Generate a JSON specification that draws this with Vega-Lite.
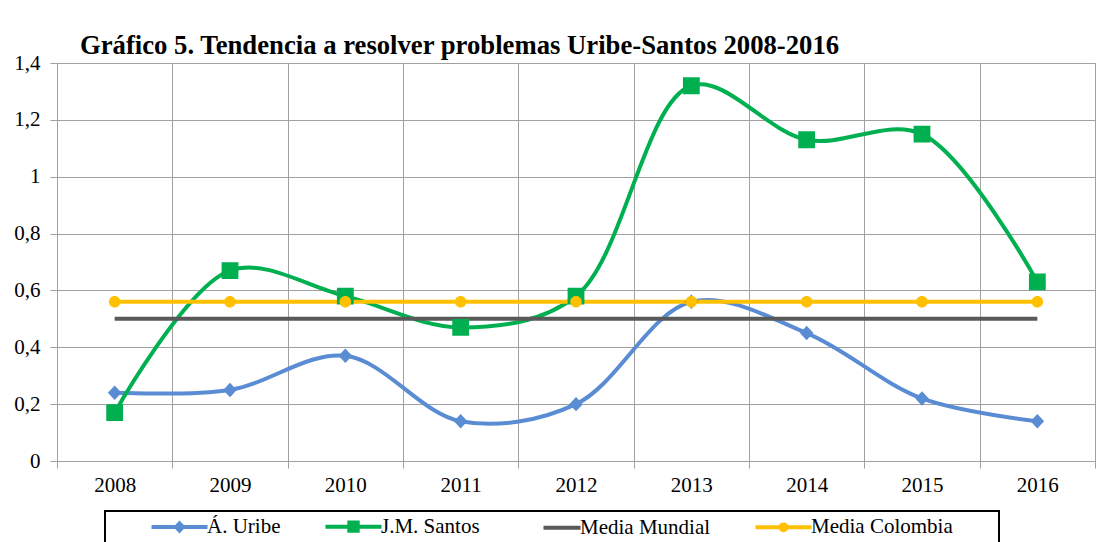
{
  "$schema": "https://vega.github.io/schema/vega-lite/v6.json",
  "width": 1038,
  "height": 398,
  "autosize": "none",
  "padding": {"left": 57, "top": 63, "right": 2, "bottom": 81},
  "background": "white",
  "title": {
    "text": "Gráfico 5. Tendencia a resolver problemas Uribe-Santos 2008-2016",
    "anchor": "start",
    "frame": "group",
    "dx": 23,
    "dy": 37,
    "offset": 8,
    "baseline": "alphabetic",
    "font": "Liberation Serif",
    "fontSize": 26.7,
    "fontWeight": "bold",
    "color": "black"
  },
  "config": {
    "view": {"stroke": "#a0a0a0", "strokeWidth": 1},
    "font": "Liberation Serif"
  },
  "data": {
    "values": [
      {"year": "2008", "serie": "Á. Uribe", "value": 0.24},
      {"year": "2009", "serie": "Á. Uribe", "value": 0.25},
      {"year": "2010", "serie": "Á. Uribe", "value": 0.37},
      {"year": "2011", "serie": "Á. Uribe", "value": 0.14},
      {"year": "2012", "serie": "Á. Uribe", "value": 0.20},
      {"year": "2013", "serie": "Á. Uribe", "value": 0.56},
      {"year": "2014", "serie": "Á. Uribe", "value": 0.45},
      {"year": "2015", "serie": "Á. Uribe", "value": 0.22},
      {"year": "2016", "serie": "Á. Uribe", "value": 0.14},
      {"year": "2008", "serie": "J.M. Santos", "value": 0.17},
      {"year": "2009", "serie": "J.M. Santos", "value": 0.67},
      {"year": "2010", "serie": "J.M. Santos", "value": 0.58},
      {"year": "2011", "serie": "J.M. Santos", "value": 0.47},
      {"year": "2012", "serie": "J.M. Santos", "value": 0.58},
      {"year": "2013", "serie": "J.M. Santos", "value": 1.32},
      {"year": "2014", "serie": "J.M. Santos", "value": 1.13},
      {"year": "2015", "serie": "J.M. Santos", "value": 1.15},
      {"year": "2016", "serie": "J.M. Santos", "value": 0.63},
      {"year": "2008", "serie": "Media Mundial", "value": 0.50},
      {"year": "2009", "serie": "Media Mundial", "value": 0.50},
      {"year": "2010", "serie": "Media Mundial", "value": 0.50},
      {"year": "2011", "serie": "Media Mundial", "value": 0.50},
      {"year": "2012", "serie": "Media Mundial", "value": 0.50},
      {"year": "2013", "serie": "Media Mundial", "value": 0.50},
      {"year": "2014", "serie": "Media Mundial", "value": 0.50},
      {"year": "2015", "serie": "Media Mundial", "value": 0.50},
      {"year": "2016", "serie": "Media Mundial", "value": 0.50},
      {"year": "2008", "serie": "Media Colombia", "value": 0.56},
      {"year": "2009", "serie": "Media Colombia", "value": 0.56},
      {"year": "2010", "serie": "Media Colombia", "value": 0.56},
      {"year": "2011", "serie": "Media Colombia", "value": 0.56},
      {"year": "2012", "serie": "Media Colombia", "value": 0.56},
      {"year": "2013", "serie": "Media Colombia", "value": 0.56},
      {"year": "2014", "serie": "Media Colombia", "value": 0.56},
      {"year": "2015", "serie": "Media Colombia", "value": 0.56},
      {"year": "2016", "serie": "Media Colombia", "value": 0.56}
    ]
  },
  "encoding": {
    "x": {
      "field": "year",
      "type": "ordinal",
      "sort": null,
      "scale": {"type": "band", "paddingInner": 0, "paddingOuter": 0},
      "axis": {
        "title": null,
        "labelAngle": 0,
        "tickBand": "extent",
        "grid": true,
        "gridColor": "#a0a0a0",
        "gridWidth": 1,
        "domain": false,
        "ticks": true,
        "tickColor": "#a0a0a0",
        "tickSize": 7,
        "labelPadding": 6,
        "labelFont": "Liberation Serif",
        "labelFontSize": 21,
        "labelColor": "black"
      }
    },
    "y": {
      "field": "value",
      "type": "quantitative",
      "scale": {"domain": [0, 1.4], "nice": false, "zero": true},
      "axis": {
        "title": null,
        "values": [0, 0.2, 0.4, 0.6, 0.8, 1, 1.2, 1.4],
        "labelExpr": "replace(toString(datum.value), '.', ',')",
        "grid": true,
        "gridColor": "#a0a0a0",
        "gridWidth": 1,
        "domain": false,
        "tickColor": "#a0a0a0",
        "tickSize": 7,
        "labelPadding": 10,
        "labelFont": "Liberation Serif",
        "labelFontSize": 21,
        "labelColor": "black"
      }
    },
    "color": {
      "field": "serie",
      "type": "nominal",
      "scale": {
        "domain": ["Á. Uribe", "J.M. Santos", "Media Mundial", "Media Colombia"],
        "range": ["#5a8cd4", "#00b050", "#595959", "#ffc000"]
      },
      "legend": {
        "orient": "none",
        "legendX": 48,
        "legendY": 448,
        "direction": "horizontal",
        "columns": 4,
        "title": "\u00a0",
        "titleOrient": "right",
        "titlePadding": 41,
        "titleFontSize": 8,
        "labelFont": "Liberation Serif",
        "labelFontSize": 21,
        "labelColor": "black",
        "labelLimit": 400,
        "strokeColor": "black",
        "padding": 5,
        "symbolSize": 64,
        "symbolStrokeWidth": 4,
        "symbolOffset": 59,
        "labelOffset": 17,
        "columnPadding": 3,
        "encode": {
          "legend": {"update": {"strokeWidth": {"value": 2}}},
          "symbols": {
            "update": {
              "shape": {"scale": "shape", "field": "value"},
              "fill": {"scale": "color", "field": "value"},
              "stroke": {"scale": "color", "field": "value"},
              "strokeWidth": {"value": 4},
              "size": {"value": 64},
              "opacity": {"value": 1}
            }
          }
        }
      }
    }
  },
  "layer": [
    {
      "mark": {"type": "line", "interpolate": "catmull-rom", "strokeWidth": 4}
    },
    {
      "mark": {"type": "point", "filled": true, "size": 256, "opacity": 1},
      "encoding": {
        "shape": {
          "field": "serie",
          "type": "nominal",
          "scale": {
            "domain": ["Á. Uribe", "J.M. Santos", "Media Mundial", "Media Colombia"],
            "range": [
              "M-7,0H7M0,-0.9L0.85,0L0,0.9L-0.85,0Z",
              "M-7,0H7M-1.05,-1.05H1.05V1.05H-1.05Z",
              "M-2.25,0H7",
              "M-7,0H7M-0.72,0A0.72,0.72,0,1,1,0.72,0A0.72,0.72,0,1,1,-0.72,0Z"
            ]
          },
          "legend": null
        }
      }
    }
  ]
}
